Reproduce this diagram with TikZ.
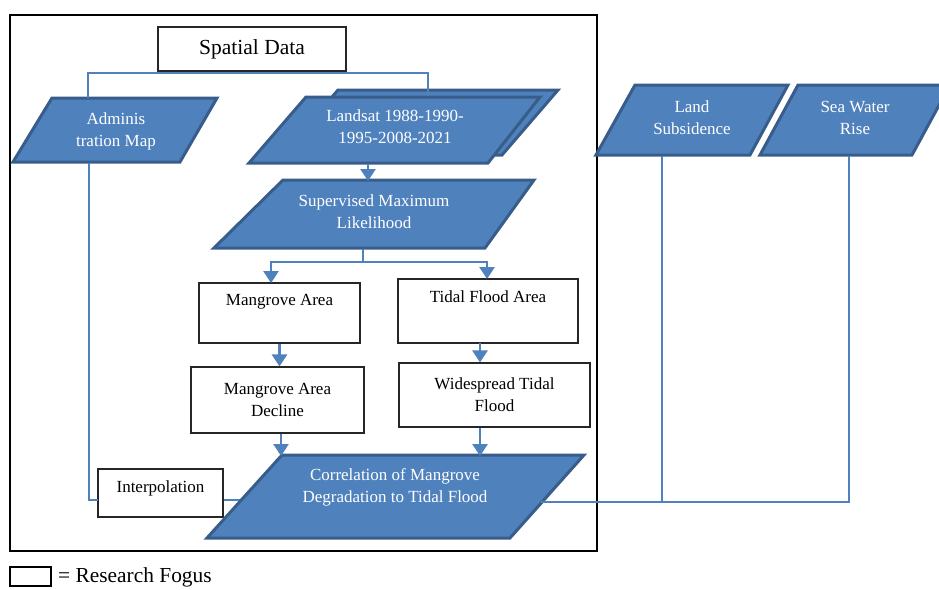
\documentclass[tikz,border=0pt]{standalone}
\usepackage{fontspec}
\setmainfont{Liberation Serif}
\usetikzlibrary{arrows.meta}
\definecolor{fillblue}{HTML}{4F81BD}
\definecolor{edgeblue}{HTML}{385D8A}
\definecolor{lineblue}{HTML}{4F81BD}
\begin{document}
\begin{tikzpicture}[x=1pt,y=-1pt,
  para/.style={fill=fillblue,draw=edgeblue,line width=3pt,line join=miter},
  ptext/.style={text=white,font=\fontsize{17}{22}\selectfont,align=center,inner sep=0pt},
  box/.style={draw=black!85,line width=1.2pt,fill=white,inner sep=0pt},
  btext/.style={font=\fontsize{17}{22}\selectfont,align=center,inner sep=0pt},
  conn/.style={draw=lineblue,line width=2pt},
  arr/.style={draw=lineblue,line width=2.8pt,-{Triangle[width=15pt,length=12pt]}},
]
\useasboundingbox (0,0) rectangle (939,589);
\clip (0,0) rectangle (939,589);

% outer frame
\draw[black,line width=1.8pt] (10,15) rectangle (597,551);

% Spatial Data
\node[box,minimum width=188pt,minimum height=44pt,font=\fontsize{21.5}{24}\selectfont] (spatial) at (252,49) {Spatial Data};
\coordinate (sdj) at (252,73);

% Administration map
\draw[para] (52,98) -- (217,98) -- (180,162) -- (13,162) -- cycle;
\node[ptext] (admin) at (116,131) {Adminis\\tration Map};
\coordinate (admintop) at (88,98);
\coordinate (adminbot) at (89,163);

% Landsat (stacked)
\draw[para] (338,90) -- (558,90) -- (502,155) -- (282,155) -- cycle;
\draw[para] (306,97) -- (540,97) -- (488,163) -- (249,163) -- cycle;
\node[ptext] (landsat) at (395,127) {Landsat 1988-1990-\\1995-2008-2021};
\coordinate (lstop) at (428,96);
\coordinate (lsbot) at (368,164);

% Supervised
\draw[para] (283,180) -- (534,180) -- (485,248) -- (214,248) -- cycle;
\node[ptext] (sup) at (374,212) {Supervised Maximum\\Likelihood};
\coordinate (suptop) at (368,181);
\coordinate (supbot) at (363,249);
\coordinate (brj) at (363,262);

% connectors from Spatial Data
\draw[conn] (admintop) |- (sdj) -| (lstop);
\draw[arr] (lsbot) -- (suptop);

% Mangrove / Tidal boxes
\node[box,minimum width=161pt,minimum height=60pt] (mang) at (279.5,313) {};
\node[btext] (mangt) at (279.5,302) {Mangrove Area};
\node[box,minimum width=180pt,minimum height=64pt] (tidal) at (488,311) {};
\node[btext] (tidalt) at (488,297) {Tidal Flood Area};
\coordinate (mangin) at (271,283);
\coordinate (tidalin) at (487,279);
\draw[conn] (supbot) -- (brj);
\draw[arr] (brj) -| (mangin);
\draw[arr] (brj) -| (tidalin);

\node[box,btext,minimum width=173pt,minimum height=66pt] (decl) at (277.5,400) {Mangrove Area\\Decline};
\node[box,btext,minimum width=191pt,minimum height=64pt] (wide) at (494.5,395) {Widespread Tidal\\Flood};
\draw[arr] (mang.south) -- (mang.south |- decl.north);
\coordinate (tw) at (480,343);
\draw[arr] (tw) -- (tw |- wide.north);

% Interpolation
\node[box,minimum width=125pt,minimum height=48pt] (interp) at (160.5,493) {};
\node[btext] (interpt) at (160.5,488) {Interpolation};
\coordinate (interpin) at (98,500);
\coordinate (corrleft) at (245,500);
\draw[conn] (adminbot) |- (interpin);
\draw[conn] (interp.east |- interpin) -- (corrleft);

% Correlation
\draw[para] (282,455) -- (584,455) -- (510,538) -- (207,538) -- cycle;
\node[ptext] (corr) at (395,487) {Correlation of Mangrove\\Degradation to Tidal Flood};
\coordinate (corrin1) at (281,456);
\coordinate (corrin2) at (480,456);
\draw[arr] (decl.south -| corrin1) -- (corrin1);
\draw[arr] (wide.south -| corrin2) -- (corrin2);
\coordinate (corrright) at (541,502);

% Land Subsidence / Sea Water Rise
\draw[para] (635,85) -- (788,85) -- (750,155) -- (596,155) -- cycle;
\node[ptext] (land) at (692,118) {Land\\Subsidence};
\draw[para] (798,85) -- (950,85) -- (912,155) -- (760,155) -- cycle;
\node[ptext] (sea) at (855,118) {Sea Water\\Rise};
\coordinate (lsb) at (662,156);
\coordinate (swb) at (849,156);
\draw[conn] (lsb) -- (lsb |- corrright);
\draw[conn] (corrright) -| (swb);

% legend
\node[draw=black,line width=1.5pt,minimum width=41pt,minimum height=19pt,inner sep=0pt] (legbox) at (30.5,576.5) {};
\node[anchor=west,font=\fontsize{21.4}{24}\selectfont,inner sep=0pt] (legtext) at (58,577) {= Research Fogus};
\end{tikzpicture}
\end{document}
